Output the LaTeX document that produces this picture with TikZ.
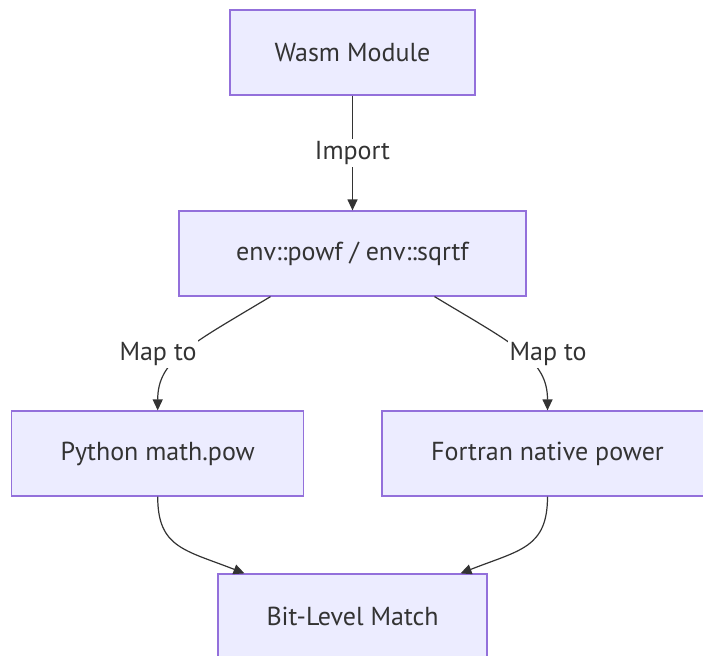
\documentclass[tikz,border=0pt]{standalone}
\usepackage{fontspec}
\setmainfont{PT Sans}
\usetikzlibrary{arrows.meta}
\definecolor{nodefill}{HTML}{ECECFF}
\definecolor{nodeborder}{HTML}{9370DB}
\definecolor{ink}{HTML}{333333}
\tikzset{
  box/.style={draw=nodeborder, fill=nodefill, line width=1.2pt, minimum height=85pt, inner sep=0pt, text=ink, font=\fontsize{26}{31}\selectfont},
  elabel/.style={fill=white, text=ink, inner sep=2pt, font=\fontsize{26}{31}\selectfont},
  edge/.style={draw=ink, line width=1.2pt, -{Triangle[length=11pt,width=10pt]}},
}
\begin{document}
\begin{tikzpicture}[x=1pt,y=-1pt]
\useasboundingbox (0,0) rectangle (703,655);
\node[box, minimum width=245pt] (wasm) at (352.5,52.5) {Wasm Module};
\node[box, minimum width=347pt] (env) at (352.5,253.5) {env::powf / env::sqrtf};
\node[box, minimum width=292pt] (py) at (157.7,453.5) {Python math.pow};
\node[box, minimum width=331pt] (ft) at (547.5,453.5) {Fortran native power};
\node[box, minimum width=269pt] (bit) at (352.5,616.5) {Bit-Level Match};

\draw[edge] (wasm.south) -- (env.north);
\node[elabel] (limp) at (352.5,153) {Import};

\draw[edge] ([xshift=-82pt]env.south) .. controls (190,345) and (157.7,360) .. (py.north);
\node[elabel] (lmap1) at (158,354) {Map to};
\draw[edge] ([xshift=82pt]env.south) .. controls (515,345) and (547.5,360) .. (ft.north);
\node[elabel] (lmap2) at (548,354) {Map to};

\draw[edge] (py.south) .. controls (157.7,548) and (185,550) .. ([xshift=-108pt]bit.north);
\draw[edge] (ft.south) .. controls (547.5,548) and (520,550) .. ([xshift=108pt]bit.north);
\end{tikzpicture}
\end{document}
